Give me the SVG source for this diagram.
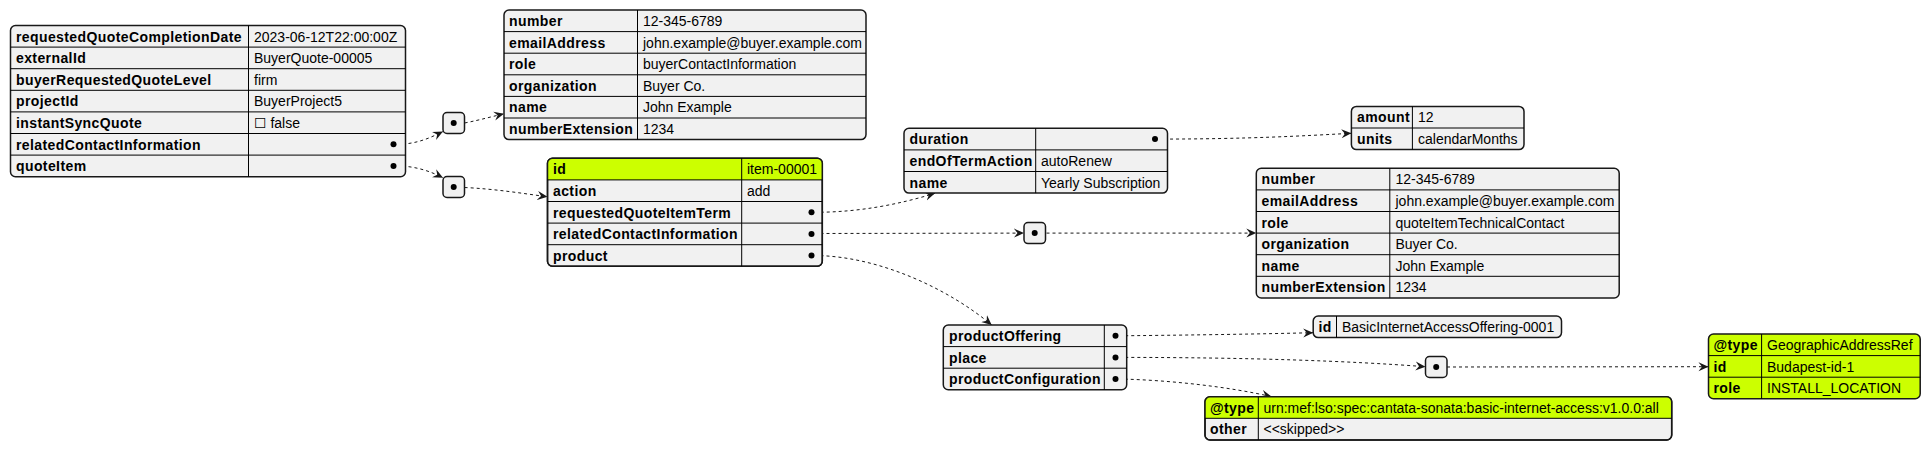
<svg xmlns="http://www.w3.org/2000/svg" width="1931" height="450" viewBox="0 0 1931 450">
<style>
.bg{fill:#F1F1F1;stroke:#181818;stroke-width:1.5}
.hl{fill:#CCFF00}
.ol{fill:none;stroke:#181818;stroke-width:1.5}
.ln{stroke:#000;stroke-width:1}
.k{font-family:"Liberation Sans",Arial,"DejaVu Sans",sans-serif;font-size:14px;font-weight:bold;letter-spacing:0.4px;fill:#000}
.v{font-family:"Liberation Sans",Arial,"DejaVu Sans",sans-serif;font-size:14px;fill:#000}
.dot{fill:#000}
.e{fill:none;stroke:#181818;stroke-width:1;stroke-dasharray:3,3}
</style>
<defs>
<marker id="ah" markerWidth="11" markerHeight="11" refX="10" refY="5.5" orient="auto" markerUnits="userSpaceOnUse">
<path d="M0,1 L10,5.5 L0,10 L3.5,5.5 Z" fill="#181818"/>
</marker>
</defs>
<rect width="1931" height="450" fill="#fff"/>

<g id="connectors">
<path class="e" marker-end="url(#ah)" d="M396.5,144.3 C415,144.3 428,139 443,131.5"/>
<path class="e" marker-end="url(#ah)" d="M464.5,123 C480,120 490,117 504,113.8"/>
<path class="e" marker-end="url(#ah)" d="M396.5,165.9 C415,166 430,171 443,177.8"/>
<path class="e" marker-end="url(#ah)" d="M464.5,187.5 C495,189 520,193 547.5,196.8"/>
<path class="e" marker-end="url(#ah)" d="M814.5,212.3 C860,212.3 900,204 935,193.3"/>
<path class="e" marker-end="url(#ah)" d="M814.5,233.5 L1024,233.1"/>
<path class="e" marker-end="url(#ah)" d="M1046.5,233.1 L1256.3,233.1"/>
<path class="e" marker-end="url(#ah)" d="M814.5,255.5 C880,256 950,290 991.7,325"/>
<path class="e" marker-end="url(#ah)" d="M1158,139.1 C1250,139 1300,136 1351.4,133.3"/>
<path class="e" marker-end="url(#ah)" d="M1119,335.8 C1200,335 1260,334 1313.2,332.7"/>
<path class="e" marker-end="url(#ah)" d="M1119,357.4 C1250,357.4 1350,361 1425.5,366.7"/>
<path class="e" marker-end="url(#ah)" d="M1119,379 C1170,380 1230,387 1271.7,396.7"/>
<path class="e" marker-end="url(#ah)" d="M1447,367 L1708.5,366.7"/>
</g>

<g id="quote">
<rect class="bg" x="10.5" y="25.5" width="395" height="151.2" rx="5"/>
<line class="ln" x1="248.5" y1="25.5" x2="248.5" y2="176.7"/>
<line class="ln" x1="10.5" y1="47.1" x2="405.5" y2="47.1"/>
<line class="ln" x1="10.5" y1="68.7" x2="405.5" y2="68.7"/>
<line class="ln" x1="10.5" y1="90.3" x2="405.5" y2="90.3"/>
<line class="ln" x1="10.5" y1="111.9" x2="405.5" y2="111.9"/>
<line class="ln" x1="10.5" y1="133.5" x2="405.5" y2="133.5"/>
<line class="ln" x1="10.5" y1="155.1" x2="405.5" y2="155.1"/>
<text class="k" x="16" y="41.5">requestedQuoteCompletionDate</text>
<text class="v" x="254" y="41.5">2023-06-12T22:00:00Z</text>
<text class="k" x="16" y="63.1">externalId</text>
<text class="v" x="254" y="63.1">BuyerQuote-00005</text>
<text class="k" x="16" y="84.7">buyerRequestedQuoteLevel</text>
<text class="v" x="254" y="84.7">firm</text>
<text class="k" x="16" y="106.3">projectId</text>
<text class="v" x="254" y="106.3">BuyerProject5</text>
<text class="k" x="16" y="127.9">instantSyncQuote</text>
<text class="v" x="254" y="127.9">☐ false</text>
<text class="k" x="16" y="149.5">relatedContactInformation</text>
<circle class="dot" cx="393.5" cy="144.3" r="3"/>
<text class="k" x="16" y="171.1">quoteItem</text>
<circle class="dot" cx="393.5" cy="165.9" r="3"/>
</g>

<g id="arr1">
<rect class="bg" x="443" y="112.5" width="21.5" height="21" rx="4"/>
<circle class="dot" cx="453.7" cy="123" r="3"/>
</g>
<g id="arr2">
<rect class="bg" x="443" y="176.5" width="21.5" height="21" rx="4"/>
<circle class="dot" cx="453.7" cy="187" r="3"/>
</g>

<g id="contact">
<rect class="bg" x="504" y="10" width="362" height="129.6" rx="5"/>
<line class="ln" x1="637.5" y1="10" x2="637.5" y2="139.6"/>
<line class="ln" x1="504" y1="31.6" x2="866" y2="31.6"/>
<line class="ln" x1="504" y1="53.2" x2="866" y2="53.2"/>
<line class="ln" x1="504" y1="74.8" x2="866" y2="74.8"/>
<line class="ln" x1="504" y1="96.4" x2="866" y2="96.4"/>
<line class="ln" x1="504" y1="118" x2="866" y2="118"/>
<text class="k" x="509" y="26">number</text>
<text class="v" x="643" y="26">12-345-6789</text>
<text class="k" x="509" y="47.6">emailAddress</text>
<text class="v" x="643" y="47.6">john.example@buyer.example.com</text>
<text class="k" x="509" y="69.2">role</text>
<text class="v" x="643" y="69.2">buyerContactInformation</text>
<text class="k" x="509" y="90.8">organization</text>
<text class="v" x="643" y="90.8">Buyer Co.</text>
<text class="k" x="509" y="112.4">name</text>
<text class="v" x="643" y="112.4">John Example</text>
<text class="k" x="509" y="134">numberExtension</text>
<text class="v" x="643" y="134">1234</text>
</g>

<g id="quoteItem">
<rect class="bg" x="547.5" y="158.3" width="274.8" height="108" rx="5"/>
<path class="hl" d="M547.5,179.9 L547.5,163.3 Q547.5,158.3 552.5,158.3 L817.3,158.3 Q822.3,158.3 822.3,163.3 L822.3,179.9 Z"/>
<rect class="ol" x="547.5" y="158.3" width="274.8" height="108" rx="5"/>
<line class="ln" x1="741.7" y1="158.3" x2="741.7" y2="266.3"/>
<line class="ln" x1="547.5" y1="179.9" x2="822.3" y2="179.9"/>
<line class="ln" x1="547.5" y1="201.5" x2="822.3" y2="201.5"/>
<line class="ln" x1="547.5" y1="223.1" x2="822.3" y2="223.1"/>
<line class="ln" x1="547.5" y1="244.7" x2="822.3" y2="244.7"/>
<text class="k" x="553" y="174.3">id</text>
<text class="v" x="747" y="174.3">item-00001</text>
<text class="k" x="553" y="195.9">action</text>
<text class="v" x="747" y="195.9">add</text>
<text class="k" x="553" y="217.5">requestedQuoteItemTerm</text>
<circle class="dot" cx="811.5" cy="212.3" r="3"/>
<text class="k" x="553" y="239.1">relatedContactInformation</text>
<circle class="dot" cx="811.5" cy="233.9" r="3"/>
<text class="k" x="553" y="260.7">product</text>
<circle class="dot" cx="811.5" cy="255.5" r="3"/>
</g>

<g id="term">
<rect class="bg" x="904" y="128.3" width="263.5" height="64.8" rx="5"/>
<line class="ln" x1="1035.7" y1="128.3" x2="1035.7" y2="193.1"/>
<line class="ln" x1="904" y1="149.9" x2="1167.5" y2="149.9"/>
<line class="ln" x1="904" y1="171.5" x2="1167.5" y2="171.5"/>
<text class="k" x="909.5" y="144.3">duration</text>
<circle class="dot" cx="1155" cy="139.1" r="3"/>
<text class="k" x="909.5" y="165.9">endOfTermAction</text>
<text class="v" x="1041" y="165.9">autoRenew</text>
<text class="k" x="909.5" y="187.5">name</text>
<text class="v" x="1041" y="187.5">Yearly Subscription</text>
</g>

<g id="duration">
<rect class="bg" x="1351.4" y="106.4" width="172.6" height="43.2" rx="5"/>
<line class="ln" x1="1412.4" y1="106.4" x2="1412.4" y2="149.6"/>
<line class="ln" x1="1351.4" y1="128" x2="1524" y2="128"/>
<text class="k" x="1357" y="122.4">amount</text>
<text class="v" x="1418" y="122.4">12</text>
<text class="k" x="1357" y="144">units</text>
<text class="v" x="1418" y="144">calendarMonths</text>
</g>

<g id="arr3">
<rect class="bg" x="1024" y="222.6" width="21.5" height="21" rx="4"/>
<circle class="dot" cx="1034.7" cy="233.1" r="3"/>
</g>

<g id="contact2">
<rect class="bg" x="1256.3" y="168.3" width="362.9" height="129.6" rx="5"/>
<line class="ln" x1="1389.8" y1="168.3" x2="1389.8" y2="297.9"/>
<line class="ln" x1="1256.3" y1="189.9" x2="1619.2" y2="189.9"/>
<line class="ln" x1="1256.3" y1="211.5" x2="1619.2" y2="211.5"/>
<line class="ln" x1="1256.3" y1="233.1" x2="1619.2" y2="233.1"/>
<line class="ln" x1="1256.3" y1="254.7" x2="1619.2" y2="254.7"/>
<line class="ln" x1="1256.3" y1="276.3" x2="1619.2" y2="276.3"/>
<text class="k" x="1261.5" y="184.3">number</text>
<text class="v" x="1395.5" y="184.3">12-345-6789</text>
<text class="k" x="1261.5" y="205.9">emailAddress</text>
<text class="v" x="1395.5" y="205.9">john.example@buyer.example.com</text>
<text class="k" x="1261.5" y="227.5">role</text>
<text class="v" x="1395.5" y="227.5">quoteItemTechnicalContact</text>
<text class="k" x="1261.5" y="249.1">organization</text>
<text class="v" x="1395.5" y="249.1">Buyer Co.</text>
<text class="k" x="1261.5" y="270.7">name</text>
<text class="v" x="1395.5" y="270.7">John Example</text>
<text class="k" x="1261.5" y="292.3">numberExtension</text>
<text class="v" x="1395.5" y="292.3">1234</text>
</g>

<g id="product">
<rect class="bg" x="943.3" y="325" width="183.4" height="64.8" rx="5"/>
<line class="ln" x1="1104.3" y1="325" x2="1104.3" y2="389.8"/>
<line class="ln" x1="943.3" y1="346.6" x2="1126.7" y2="346.6"/>
<line class="ln" x1="943.3" y1="368.2" x2="1126.7" y2="368.2"/>
<text class="k" x="949" y="341">productOffering</text>
<circle class="dot" cx="1115.5" cy="335.8" r="3"/>
<text class="k" x="949" y="362.6">place</text>
<circle class="dot" cx="1115.5" cy="357.4" r="3"/>
<text class="k" x="949" y="384.2">productConfiguration</text>
<circle class="dot" cx="1115.5" cy="379" r="3"/>
</g>

<g id="productOffering">
<rect class="bg" x="1313.2" y="316" width="248.3" height="21.6" rx="5"/>
<line class="ln" x1="1336.5" y1="316" x2="1336.5" y2="337.6"/>
<text class="k" x="1318.5" y="332">id</text>
<text class="v" x="1342" y="332">BasicInternetAccessOffering-0001</text>
</g>

<g id="arr4">
<rect class="bg" x="1425.5" y="356.5" width="21.5" height="21" rx="4"/>
<circle class="dot" cx="1436.2" cy="367" r="3"/>
</g>

<g id="place">
<rect x="1708.5" y="334" width="211.7" height="64.8" rx="5" fill="#CCFF00" stroke="#181818" stroke-width="1.5"/>
<line class="ln" x1="1761.6" y1="334" x2="1761.6" y2="398.8"/>
<line class="ln" x1="1708.5" y1="355.6" x2="1920.2" y2="355.6"/>
<line class="ln" x1="1708.5" y1="377.2" x2="1920.2" y2="377.2"/>
<text class="k" x="1713.5" y="350">@type</text>
<text class="v" x="1767" y="350">GeographicAddressRef</text>
<text class="k" x="1713.5" y="371.6">id</text>
<text class="v" x="1767" y="371.6">Budapest-id-1</text>
<text class="k" x="1713.5" y="393.2">role</text>
<text class="v" x="1767" y="393.2">INSTALL_LOCATION</text>
</g>

<g id="productConfiguration">
<rect class="bg" x="1205" y="396.7" width="466.7" height="43.2" rx="5"/>
<path class="hl" d="M1205,418.3 L1205,401.7 Q1205,396.7 1210,396.7 L1666.7,396.7 Q1671.7,396.7 1671.7,401.7 L1671.7,418.3 Z"/>
<rect class="ol" x="1205" y="396.7" width="466.7" height="43.2" rx="5"/>
<line class="ln" x1="1258.3" y1="396.7" x2="1258.3" y2="439.9"/>
<line class="ln" x1="1205" y1="418.3" x2="1671.7" y2="418.3"/>
<text class="k" x="1210" y="412.7">@type</text>
<text class="v" x="1263.5" y="412.7">urn:mef:lso:spec:cantata-sonata:basic-internet-access:v1.0.0:all</text>
<text class="k" x="1210" y="434.3">other</text>
<text class="v" x="1263.5" y="434.3">&lt;&lt;skipped&gt;&gt;</text>
</g>
</svg>
